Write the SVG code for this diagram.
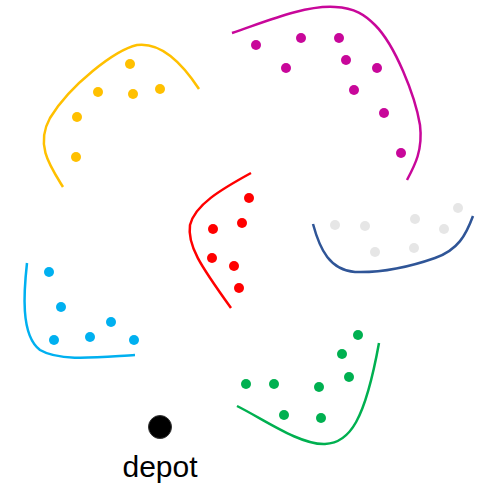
<svg xmlns="http://www.w3.org/2000/svg" width="481" height="485" viewBox="0 0 481 485">
<style>
.c{fill:none;stroke-width:2.5;stroke-linecap:butt}
.y{fill:#ffc000}.m{fill:#c8079a}.r{fill:#ff0000}.g{fill:#e6e6e6}.b{fill:#00b0f0}.gr{fill:#00b050}
</style>
<rect width="481" height="485" fill="#fff"/>
<g id="connectors">
<path class="c" stroke="#ffc000" d="M63,187 C50,166 35,145 50,118 C70,85 115,50 137,45 C160,42 180,60 199,89"/>
<path class="c" stroke="#c8079a" d="M232,33 C265,22 305,5 335,7 C355,8 365,15 375,25 C395,45 415,95 420,125 C423,150 415,165 407,180"/>
<path class="c" stroke="#ff0000" d="M251,173 C220,190 195,205 190,225 C187,245 200,265 231,308"/>
<path class="c" stroke="#2f5597" d="M313,224 C320,250 330,270 355,272 C385,273 415,265 435,258 C458,250 466,235 473,216"/>
<path class="c" stroke="#00b0f0" d="M27,263 C24,290 20,335 40,350 C60,362 100,357 135,355"/>
<path class="c" stroke="#00b050" d="M237,406 C265,420 300,445 325,444 C350,443 365,420 379,343"/>
</g>
<g id="cluster-yellow" class="y">
<circle cx="130" cy="64" r="5"/><circle cx="98" cy="92" r="5"/><circle cx="133" cy="94" r="5"/><circle cx="160" cy="89" r="5"/><circle cx="77" cy="117" r="5"/><circle cx="76" cy="157" r="5"/>
</g>
<g id="cluster-magenta" class="m">
<circle cx="256" cy="45" r="5"/><circle cx="301" cy="38" r="5"/><circle cx="339" cy="38" r="5"/><circle cx="286" cy="68" r="5"/><circle cx="346" cy="60" r="5"/><circle cx="377" cy="68" r="5"/><circle cx="354" cy="90" r="5"/><circle cx="384" cy="113" r="5"/><circle cx="401" cy="153" r="5"/>
</g>
<g id="cluster-red" class="r">
<circle cx="249" cy="198" r="5"/><circle cx="242" cy="223" r="5"/><circle cx="213" cy="229" r="5"/><circle cx="212" cy="258" r="5"/><circle cx="234" cy="266" r="5"/><circle cx="239" cy="288" r="5"/>
</g>
<g id="cluster-grey" class="g">
<circle cx="335" cy="225" r="5"/><circle cx="365" cy="226" r="5"/><circle cx="415" cy="219" r="5"/><circle cx="458" cy="208" r="5"/><circle cx="444" cy="229" r="5"/><circle cx="375" cy="252" r="5"/><circle cx="414" cy="248" r="5"/>
</g>
<g id="cluster-blue" class="b">
<circle cx="49" cy="272" r="5"/><circle cx="61" cy="307" r="5"/><circle cx="111" cy="322" r="5"/><circle cx="54" cy="340" r="5"/><circle cx="90" cy="337" r="5"/><circle cx="134" cy="340" r="5"/>
</g>
<g id="cluster-green" class="gr">
<circle cx="358" cy="335" r="5"/><circle cx="342" cy="354" r="5"/><circle cx="349" cy="377" r="5"/><circle cx="246" cy="384" r="5"/><circle cx="274" cy="384" r="5"/><circle cx="319" cy="387" r="5"/><circle cx="284" cy="415" r="5"/><circle cx="321" cy="418" r="5"/>
</g>
<g id="depot">
<circle cx="160" cy="427" r="11.5" fill="#000" stroke="#333" stroke-width="1"/>
<text x="160" y="477" font-family="Liberation Sans, Arial, sans-serif" font-size="30" text-anchor="middle" fill="#000">depot</text>
</g>
</svg>
